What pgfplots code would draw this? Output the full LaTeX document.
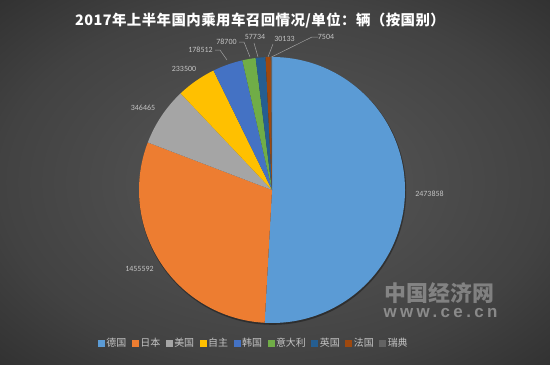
\documentclass[border=0pt]{standalone}
\usepackage{pgfplots}
\pgfplotsset{compat=1.18}
\usepackage{pgfplotstable}
\usepackage{fontspec}
\setmainfont{Carlito}
\newfontfamily\cjk{Noto Sans CJK SC}
\newfontfamily\cjkt[LetterSpace=3]{Noto Sans CJK SC}
\newfontfamily\wm[LetterSpace=20]{Liberation Sans}

\definecolor{pie0}{HTML}{5B9BD5}
\definecolor{pie1}{HTML}{ED7D31}
\definecolor{pie2}{HTML}{A5A5A5}
\definecolor{pie3}{HTML}{FFC000}
\definecolor{pie4}{HTML}{4472C4}
\definecolor{pie5}{HTML}{70AD47}
\definecolor{pie6}{HTML}{255E91}
\definecolor{pie7}{HTML}{9E480E}
\definecolor{pie8}{HTML}{636363}
\definecolor{lbl}{HTML}{C4C4C4}
\definecolor{lead}{HTML}{A0A0A0}
\definecolor{bgA}{HTML}{595959}
\definecolor{bgB}{HTML}{424242}
\definecolor{bgC}{HTML}{313131}
\pgfdeclareradialshading{bgshade}{\pgfpoint{0bp}{0bp}}{color(0bp)=(bgA); color(25bp)=(bgB); color(36bp)=(bgC); color(50bp)=(bgC)}

\pgfplotstableread{
value
2473858
1455592
346465
233500
178512
78700
57734
30133
7504
}\piedata

\gdef\total{0}
\pgfplotsforeachungrouped \i in {0,...,8}{%
  \pgfplotstablegetelem{\i}{value}\of\piedata
  \xdef\total{\fpeval{\total+\pgfplotsretval}}%
}
\gdef\cum{0}
\pgfplotsforeachungrouped \i in {0,...,8}{%
  \pgfplotstablegetelem{\i}{value}\of\piedata
  \expandafter\xdef\csname sa\i\endcsname{\fpeval{90-360*\cum/\total}}%
  \xdef\cum{\fpeval{\cum+\pgfplotsretval}}%
  \expandafter\xdef\csname ea\i\endcsname{\fpeval{90-360*\cum/\total}}%
}

\begin{document}
\begin{tikzpicture}
\begin{axis}[
  x=1bp, y=1bp, xmin=0, xmax=550, ymin=0, ymax=364,
  scale only axis, hide axis, clip=false,
  legend columns=-1,
  legend image code/.code={\fill[#1] (0bp,-3.5bp) rectangle (7bp,3.5bp);},
  legend style={at={(0.461,0.0577)}, anchor=center, draw=none, fill=none,
    font=\cjk\fontsize{10}{12}\selectfont, text=lbl,
    inner sep=0pt, nodes={inner sep=1.5bp},
    /tikz/every even column/.append style={column sep=4bp}},
]
\shade[shading=bgshade] (axis cs:0,0) rectangle (axis cs:550,364);
\fill[black, opacity=0.35] (axis cs:272.6,172.8) circle[radius=133.6bp];
\pgfplotsinvokeforeach{0,...,8}{
  \fill[pie#1] (axis cs:272,174) -- ++(\csname sa#1\endcsname:133bp)
    arc[start angle=\csname sa#1\endcsname, end angle=\csname ea#1\endcsname, radius=133bp] -- cycle;
}
% leader lines
\draw[lead, line width=0.5bp] (axis cs:215,314) -- (axis cs:220,314) -- (axis cs:227,304);
\draw[lead, line width=0.5bp] (axis cs:239,322) -- (axis cs:244,322) -- (axis cs:250,307);
\draw[lead, line width=0.5bp] (axis cs:254,321) -- (axis cs:258,307);
\draw[lead, line width=0.5bp] (axis cs:273,320) -- (axis cs:268,307);
\draw[lead, line width=0.5bp] (axis cs:318,327) -- (axis cs:312,327) -- (axis cs:271.5,307);
% data labels
\begin{scope}[every node/.style={font=\fontsize{8}{9}\selectfont, text=lbl, inner sep=0pt}]
\node at (axis cs:429.5,170) {2473858};
\node at (axis cs:139.5,95) {1455592};
\node at (axis cs:143,256) {346465};
\node at (axis cs:184,295) {233500};
\node at (axis cs:200.5,314) {178512};
\node at (axis cs:226.5,322) {78700};
\node at (axis cs:255,327) {57734};
\node at (axis cs:284.5,325) {30133};
\node at (axis cs:326,327) {7504};
\end{scope}
% title
\node[font=\cjkt\bfseries\fontsize{14.5}{16}\selectfont, text=white] at (axis cs:260,343) {2017年上半年国内乘用车召回情况/单位：辆（按国别）};
% watermark
\node[font=\cjk\bfseries\fontsize{22}{24}\selectfont, text=white, opacity=0.33] at (axis cs:439.5,71) {中国经济网};
\node[font=\wm\bfseries\fontsize{17}{19}\selectfont, text=white, opacity=0.38] at (axis cs:440.5,51) {www.ce.cn};
% legend
\addlegendimage{fill=pie0, draw=none}\addlegendentry{德国}
\addlegendimage{fill=pie1, draw=none}\addlegendentry{日本}
\addlegendimage{fill=pie2, draw=none}\addlegendentry{美国}
\addlegendimage{fill=pie3, draw=none}\addlegendentry{自主}
\addlegendimage{fill=pie4, draw=none}\addlegendentry{韩国}
\addlegendimage{fill=pie5, draw=none}\addlegendentry{意大利}
\addlegendimage{fill=pie6, draw=none}\addlegendentry{英国}
\addlegendimage{fill=pie7, draw=none}\addlegendentry{法国}
\addlegendimage{fill=pie8, draw=none}\addlegendentry{瑞典}
\end{axis}
\end{tikzpicture}
\end{document}
